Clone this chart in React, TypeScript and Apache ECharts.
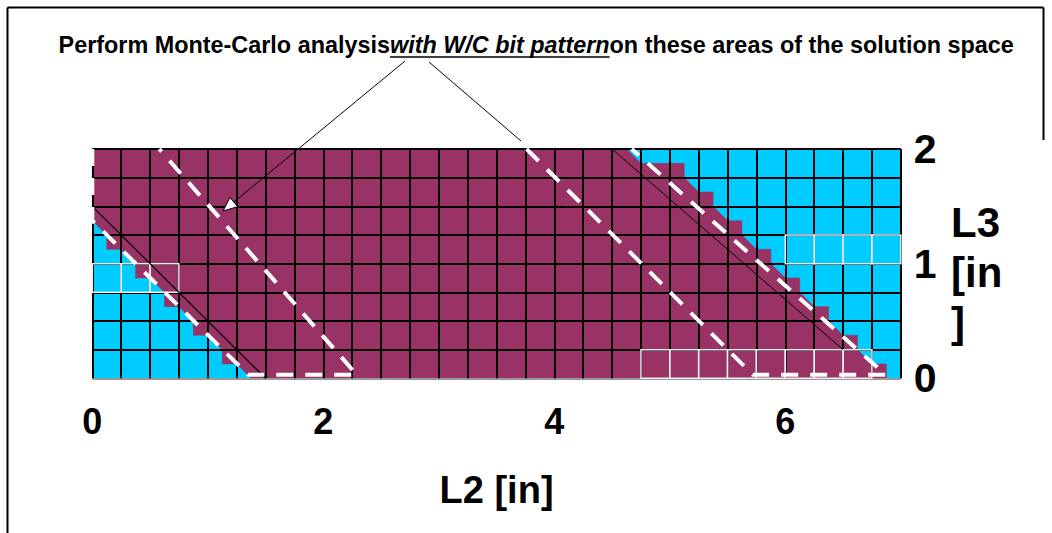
import React, { useEffect, useRef } from 'react';
import * as echarts from 'echarts';

// ---- data ----
const xMin = 0, xMax = 7, yMin = 0, yMax = 2, cellStep = 0.25;
const xTickLabels = [0, 2, 4, 6];
const yTickLabels = [0, 1, 2];

// lower-left boundary of the purple region (cyan below it)
const lowerBoundaryX = [0, 0.125, 0.125, 0.25, 0.375, 0.375, 0.5, 0.625, 0.625, 0.75, 0.875, 0.875, 1.0, 1.125, 1.125, 1.25, 1.375];
const lowerBoundaryY = [1.375, 1.25, 1.125, 1.125, 1.0, 0.875, 0.875, 0.75, 0.625, 0.625, 0.5, 0.375, 0.375, 0.25, 0.125, 0.125, 0];

// upper-right boundary of the purple region (cyan above it)
const upperBoundaryX = [4.625, 4.75, 5.125, 5.125, 5.25, 5.375, 5.375, 5.5, 5.625, 5.625, 5.75, 5.875, 5.875, 6.0, 6.125, 6.125, 6.25, 6.375, 6.375, 6.5, 6.625, 6.625, 6.75, 6.875, 6.875];
const upperBoundaryY = [2, 1.875, 1.875, 1.75, 1.625, 1.625, 1.5, 1.375, 1.375, 1.25, 1.125, 1.125, 1.0, 0.875, 0.875, 0.75, 0.625, 0.625, 0.5, 0.375, 0.375, 0.25, 0.125, 0.125, 0];

// cells with light borders
const highlightCellX = [0, 0.25, 0.5, 6.0, 6.25, 6.5, 6.75, 4.75, 5.0, 5.25, 5.5, 5.75, 6.0, 6.25, 6.5];
const highlightCellY = [0.75, 0.75, 0.75, 1.0, 1.0, 1.0, 1.0, 0, 0, 0, 0, 0, 0, 0, 0];

// thin black diagonals
const diag1X = [0, 1.5];
const diag1Y = [1.5, 0];
const diag2X = [4.5, 6.5];
const diag2Y = [2, 0.25];

// white dashed outlines of the Monte-Carlo areas
const area1X = [0, 0, 1.35, 2.29, 0.58];
const area1Y = [2, 1.375, 0.03, 0.03, 2];
const area2X = [3.76, 5.72, 6.87, 4.67];
const area2Y = [2, 0.03, 0.03, 2];

const titleParts = ['Perform Monte-Carlo analysis', 'with W/C bit pattern', 'on these areas of the solution space'];

const PURPLE = '#993366';
const CYAN = '#00CCFF';
const FONT = "'Liberation Sans', Arial, sans-serif";
const TITLE_SIZE = 23.4;

const zip = (xs: number[], ys: number[]) => xs.map((x, i) => [x, ys[i]]);

function measure(text: string, font: string) {
  const ctx = document.createElement('canvas').getContext('2d');
  if (!ctx) return text.length * 11;
  ctx.font = font;
  return ctx.measureText(text).width;
}

function buildOption() {
  const lower = zip(lowerBoundaryX, lowerBoundaryY);
  const upper = zip(upperBoundaryX, upperBoundaryY).reverse();
  const purplePolygon = [[xMin, yMax], ...lower, ...upper];
  const highlight = zip(highlightCellX, highlightCellY);

  const yLineColors = [];
  for (let v = yMin; v <= yMax + 1e-9; v += cellStep) yLineColors.push(v === 0 ? '#9a9a9a' : '#000');

  const arrowTip = [223, 211];
  const arrowStart = [405, 61];
  const dx = arrowTip[0] - arrowStart[0], dy = arrowTip[1] - arrowStart[1];
  const len = Math.hypot(dx, dy);
  const ux = dx / len, uy = dy / len;
  const bx = arrowTip[0] - 14 * ux, by = arrowTip[1] - 14 * uy;
  const head = [arrowTip, [bx + 6 * uy, by - 6 * ux], [bx - 6 * uy, by + 6 * ux]];

  const titleX = 390;
  const w2 = measure(titleParts[1], `italic bold ${TITLE_SIZE}px 'Liberation Sans', Arial, sans-serif`);
  const part3X = titleX + w2;

  return {
    animation: false,
    grid: {
      left: 92.3, top: 149, right: 151.2, bottom: 154.7,
      show: true, backgroundColor: CYAN, borderWidth: 0,
    },
    xAxis: {
      type: 'value', min: xMin, max: xMax, interval: cellStep, z: 3,
      axisLine: { show: false }, axisTick: { show: false },
      axisLabel: {
        margin: 25, fontSize: 36, fontWeight: 'bold', color: '#000', fontFamily: FONT,
        formatter: (v: number) => (xTickLabels.includes(v) ? String(v) : ''),
      },
      splitLine: { show: true, lineStyle: { color: '#000', width: 2 } },
      name: 'L2 [in]', nameLocation: 'middle', nameGap: 93,
      nameTextStyle: { fontSize: 38, fontWeight: 'bold', color: '#000', fontFamily: FONT },
    },
    yAxis: {
      type: 'value', position: 'right', min: yMin, max: yMax, interval: cellStep, z: 3,
      axisLine: { show: false }, axisTick: { show: false },
      axisLabel: {
        margin: 13, fontSize: 41, fontWeight: 'bold', color: '#000', fontFamily: FONT,
        formatter: (v: number) => (yTickLabels.includes(v) ? String(v) : ''),
      },
      splitLine: { show: true, lineStyle: { color: yLineColors, width: 2 } },
    },
    series: [
      {
        type: 'custom', z: 1, silent: true,
        data: [[0, 0]],
        renderItem: (_p: any, api: any) => ({
          type: 'polygon',
          shape: { points: purplePolygon.map((p) => api.coord(p)) },
          style: { fill: PURPLE, stroke: PURPLE, lineWidth: 0.5 },
        }),
      },
      {
        type: 'custom', z: 4, silent: true,
        data: highlight,
        renderItem: (_p: any, api: any) => {
          const x0 = api.value(0), y0 = api.value(1);
          const a = api.coord([x0, y0 + cellStep]);
          const b = api.coord([x0 + cellStep, y0]);
          return {
            type: 'rect',
            shape: { x: a[0], y: a[1], width: b[0] - a[0], height: b[1] - a[1] },
            style: { fill: 'none', stroke: '#eeeeee', lineWidth: 1.5 },
          };
        },
      },
      {
        type: 'line', z: 5, silent: true, symbol: 'none',
        data: zip(diag1X, diag1Y),
        lineStyle: { color: '#000', width: 1.2 },
      },
      {
        type: 'line', z: 5, silent: true, symbol: 'none',
        data: zip(diag2X, diag2Y),
        lineStyle: { color: '#000', width: 1 },
      },
      {
        type: 'line', z: 6, silent: true, symbol: 'none',
        data: zip(area1X, area1Y),
        lineStyle: { color: '#fff', width: 4, type: [17, 12], cap: 'butt' },
      },
      {
        type: 'line', z: 6, silent: true, symbol: 'none',
        data: zip(area2X, area2Y),
        lineStyle: { color: '#fff', width: 4, type: [17, 12], cap: 'butt' },
      },
    ],
    graphic: [
      // frame
      { type: 'line', shape: { x1: 7.5, y1: 7.5, x2: 7.5, y2: 533 }, style: { stroke: '#000', lineWidth: 2 } },
      { type: 'line', shape: { x1: 7.5, y1: 7.5, x2: 1043.5, y2: 7.5 }, style: { stroke: '#000', lineWidth: 2 } },
      { type: 'line', shape: { x1: 1043.5, y1: 7.5, x2: 1043.5, y2: 140 }, style: { stroke: '#000', lineWidth: 2 } },
      // title
      {
        type: 'text', x: titleX, y: 45,
        style: { text: titleParts[0], fontSize: TITLE_SIZE, fontWeight: 'bold', fontFamily: FONT, fill: '#000', align: 'right', verticalAlign: 'middle' },
      },
      {
        type: 'text', x: titleX, y: 45,
        style: { text: titleParts[1], fontSize: TITLE_SIZE, fontWeight: 'bold', fontStyle: 'italic', fontFamily: FONT, fill: '#000', align: 'left', verticalAlign: 'middle' },
      },
      {
        type: 'text', x: part3X, y: 45,
        style: { text: titleParts[2], fontSize: TITLE_SIZE, fontWeight: 'bold', fontFamily: FONT, fill: '#000', align: 'left', verticalAlign: 'middle' },
      },
      { type: 'line', shape: { x1: titleX, y1: 57, x2: part3X, y2: 57 }, style: { stroke: '#000', lineWidth: 1.5 } },
      // arrows
      { type: 'line', z: 100, shape: { x1: arrowStart[0], y1: arrowStart[1], x2: bx, y2: by }, style: { stroke: '#000', lineWidth: 1 } },
      { type: 'polygon', z: 100, shape: { points: head }, style: { fill: '#fff', stroke: '#000', lineWidth: 1 } },
      { type: 'line', z: 100, shape: { x1: 429, y1: 62, x2: 521, y2: 141 }, style: { stroke: '#000', lineWidth: 1 } },
      // right axis name
      {
        type: 'text', x: 951, y: 197,
        style: { text: 'L3\n[in\n]', fontSize: 42, lineHeight: 50, fontWeight: 'bold', fontFamily: FONT, fill: '#000', align: 'left', verticalAlign: 'top' },
      },
    ],
  };
}

export default function App() {
  const ref = useRef<HTMLDivElement>(null);
  useEffect(() => {
    const chart = echarts.init(ref.current as HTMLDivElement, null, { renderer: 'svg' });
    chart.setOption(buildOption() as any);
    return () => chart.dispose();
  }, []);
  return <div ref={ref} style={{ position: 'fixed', left: 0, top: 0, width: 1052, height: 533, background: '#fff' }} />;
}
